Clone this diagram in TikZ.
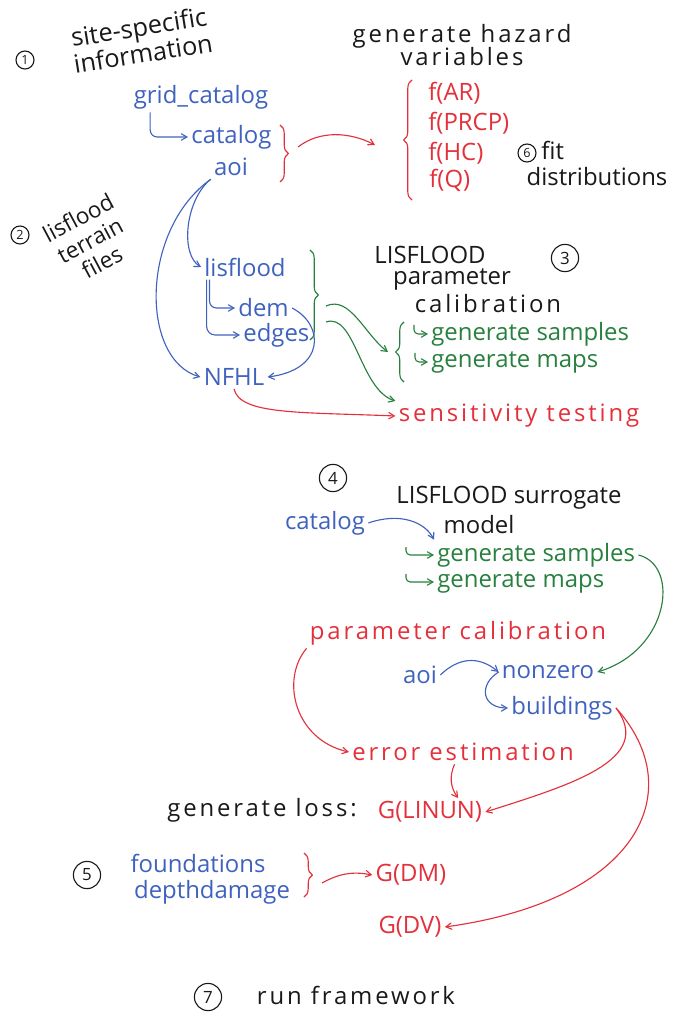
\documentclass[tikz,border=0pt]{standalone}
\usepackage{fontspec}
\setmainfont{Open Sans}
\usetikzlibrary{positioning,arrows,decorations.pathreplacing}
\definecolor{penblue}{RGB}{62,98,190}
\definecolor{penred}{RGB}{228,48,58}
\definecolor{pengreen}{RGB}{40,128,62}
\definecolor{penblack}{RGB}{25,25,25}
\tikzset{
sketch/.style={
    >=angle 60,
    x=0.025cm,
    y=-0.025cm,
    thick,
    inner sep=2pt,
    font=\fontsize{17}{17}\selectfont
},
loose/.style={
    font=\fontsize{17}{17}\selectfont\addfontfeatures{LetterSpace=12}
},
num/.style={
    circle,
    draw=penblack,
    thick,
    inner sep=0pt,
    minimum size=0.68cm,
    text=penblack,
    font=\fontsize{12}{12}\selectfont
},
smallnum/.style={
    num,
    minimum size=0.45cm,
    font=\fontsize{9}{9}\selectfont
},
ink/.style={
    text=penblack
},
blu/.style={
    text=penblue
},
grn/.style={
    text=pengreen
},
rd/.style={
    text=penred
},
bluline/.style={
    ->,
    draw=penblue
},
grnline/.style={
    ->,
    draw=pengreen
},
rdline/.style={
    ->,
    draw=penred
},
curly/.style={
    decorate,
    decoration={brace,amplitude=6pt}
}}

\begin{document}
\begin{tikzpicture}[sketch]
\useasboundingbox (0,0) rectangle (681,1016);

% 1: site-specific information
\node    (n1)      [smallnum]                      at (25,60)   {1};
\node    (site)    [ink,align=center,rotate=9,font=\fontsize{18}{16}\selectfont] at (141,40) {site-specific\\information};
\node    (gridcat) [blu]                           at (201,97)  {grid\_catalog};
\node    (cat)     [blu,anchor=west]               at (188,137) {catalog};
\node    (aoi)     [blu]                           at (231,167) {aoi};

% 6: hazard variables
\node    (haz)     [ink,align=center,loose]        at (462,45)  {generate hazard\\variables};
\node    (far)     [rd,anchor=west]                at (425,93)  {f(AR)};
\node    (fprcp)   [rd,anchor=west]                at (425,123) {f(PRCP)};
\node    (fhc)     [rd,anchor=west]                at (425,153) {f(HC)};
\node    (fq)      [rd,anchor=west]                at (426,180) {f(Q)};
\node    (n6)      [smallnum]                      at (527,153) {6};
\node    (fit)     [ink,anchor=west]               at (538,150) {fit};
\node    (dist)    [ink]                           at (597,177) {distributions};

% 2: terrain files
\node    (n2)      [smallnum]                      at (20,235)  {2};
\node    (terr)    [ink,align=center,rotate=28,font=\fontsize{16}{18}\selectfont] at (90,240) {lisflood\\terrain\\files};
\node    (lisf)    [blu]                           at (245,267) {lisflood};
\node    (dem)     [blu,anchor=west]               at (235,308) {dem};
\node    (edges)   [blu,anchor=west]               at (240,335) {edges};
\node    (nfhl)    [blu]                           at (234,377) {NFHL};

% 3: parameter calibration
\node    (lp1)     [ink]                           at (430,255) {LISFLOOD};
\node    (lp2)     [ink]                           at (452,279) {parameter};
\node    (lp3)     [ink,loose]                     at (488,304) {calibration};
\node    (n3)      [num]                           at (565,258) {3};
\node    (gs1)     [grn,anchor=west]               at (428,334) {generate samples};
\node    (gm1)     [grn,anchor=west]               at (428,362) {generate maps};
\node    (sens)    [rd,loose]                      at (519,416) {sensitivity testing};

% 4: surrogate model
\node    (n4)      [num]                           at (333,478) {4};
\node    (sur1)    [ink]                           at (509,498) {LISFLOOD surrogate};
\node    (sur2)    [ink]                           at (479,525) {model};
\node    (cat2)    [blu]                           at (325,523) {catalog};
\node    (gs2)     [grn,anchor=west]               at (434,555) {generate samples};
\node    (gm2)     [grn,anchor=west]               at (434,582) {generate maps};
\node    (parcal)  [rd,loose]                      at (458,633) {parameter calibration};
\node    (aoi2)    [blu]                           at (420,675) {aoi};
\node    (nz)      [blu]                           at (548,672) {nonzero};
\node    (bld)     [blu,anchor=west]               at (508,708) {buildings};
\node    (err)     [rd,loose]                      at (463,752) {error estimation};

% 5: losses
\node    (loss)    [ink,loose]                     at (262,810) {generate loss:};
\node    (glinun)  [rd]                            at (430,812) {G(LINUN)};
\node    (n5)      [num]                           at (87,875)  {5};
\node    (found)   [blu]                           at (198,863) {foundations};
\node    (dd)      [blu]                           at (212,892) {depthdamage};
\node    (gdm)     [rd]                            at (411,875) {G(DM)};
\node    (gdv)     [rd]                            at (410,927) {G(DV)};

% 7
\node    (n7)      [num]                           at (208,997) {7};
\node    (run)     [ink,loose]                     at (356,995) {run framework};

% brace ends and hook starts
\coordinate (b1t)  at (280,125);
\coordinate (b1b)  at (280,182);
\coordinate (b1)   at (298,147);
\coordinate (b2t)  at (412,80);
\coordinate (b2b)  at (412,200);
\coordinate (hazin) at (375,145);
\coordinate (b3t)  at (310,250);
\coordinate (b3b)  at (310,340);
\coordinate (b3a)  at (326,306);
\coordinate (b3c)  at (326,322);
\coordinate (b4t)  at (404,322);
\coordinate (b4b)  at (404,382);
\coordinate (b4)   at (388,352);
\coordinate (b5t)  at (304,853);
\coordinate (b5b)  at (304,897);
\coordinate (b5)   at (322,883);
\coordinate (h1)   at (414,325);
\coordinate (h2)   at (415,353);
\coordinate (h3)   at (406,547);
\coordinate (h4)   at (406,574);

\draw[penred,curly]    (b1t) -- (b1b);
\draw[penred,curly]    (b2b) -- (b2t);
\draw[pengreen,curly]  (b3t) -- (b3b);
\draw[pengreen,curly]  (b4b) -- (b4t);
\draw[penred,curly]    (b5t) -- (b5b);

\draw[bluline,rounded corners=5pt] ([xshift=14pt]gridcat.south west) |- (cat.west);
\draw[rdline]  (b1) .. controls (320,130) and (350,132) .. (hazin);

\draw[bluline] (aoi.south west) .. controls (185,200) and (180,255) .. (lisf.west);
\draw[bluline] (aoi.south west) .. controls (140,230) and (140,360) .. (nfhl.west);
\draw[bluline,rounded corners=5pt] ([xshift=6pt]lisf.south west) |- (dem.west);
\draw[bluline,rounded corners=6pt] ([xshift=4pt]lisf.south west) |- (edges.west);
\draw[bluline] (dem.east) .. controls (325,325) and (325,370) .. (nfhl.east);

\draw[grnline] (b3a) .. controls (350,295) and (365,335) .. (b4);
\draw[grnline] (b3c) .. controls (355,312) and (360,390) .. (sens.north west);
\draw[grnline,rounded corners=3pt] (h1) |- (gs1.west);
\draw[grnline,rounded corners=3pt] (h2) |- (gm1.west);
\draw[rdline]  (nfhl.south) .. controls (240,415) and (300,412) .. (sens.west);

\draw[bluline] (cat2.east) .. controls (400,512) and (425,522) .. (gs2.north west);
\draw[grnline,rounded corners=3pt] (h3) |- (gs2.west);
\draw[grnline,rounded corners=3pt] (h4) |- (gm2.west);
\draw[grnline] (gs2.east) .. controls (680,565) and (670,650) .. (nz.east);
\draw[bluline] (aoi2.east) .. controls (458,658) and (478,655) .. (nz.west);
\draw[bluline] (nz.west) .. controls (478,685) and (482,708) .. (bld.west);
\draw[rdline]  (parcal.south west) .. controls (280,680) and (295,740) .. (err.west);
\draw[rdline]  ([xshift=-6pt]err.south) to[bend right=30] ([xshift=20pt]glinun.north);
\draw[rdline]  (bld.east) .. controls (655,760) and (570,785) .. (glinun.east);
\draw[rdline]  (bld.east) .. controls (690,790) and (640,900) .. (gdv.east);
\draw[rdline]  (b5) to[bend left=20] (gdm.west);
\end{tikzpicture}
\end{document}
